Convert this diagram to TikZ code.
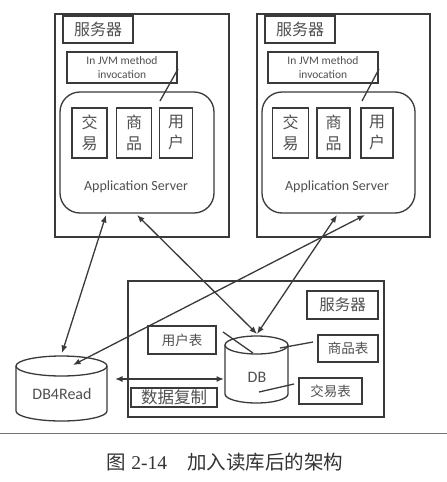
\documentclass[tikz,border=0pt]{standalone}
\usepackage{fontspec}
\setmainfont{Carlito}
\newfontfamily\cjk{Noto Sans CJK SC}
\newfontfamily\capserif{Liberation Serif}
\usetikzlibrary{arrows.meta}
\definecolor{ink}{HTML}{3A3A3A}
\definecolor{txt}{HTML}{505050}
\begin{document}
\begin{tikzpicture}[x=1pt,y=-1pt,
  line width=1.3pt,
  every node/.style={text=txt},
  box/.style={draw=ink, rectangle, inner sep=0pt, line width=1.3pt},
  rbox/.style={draw=ink, rectangle, rounded corners=20pt, inner sep=0pt, line width=1.3pt},
  cjk16/.style={font=\cjk\fontsize{16}{21}\selectfont},
  cjk13/.style={font=\cjk\fontsize{13.5}{16}\selectfont},
  lat/.style={font=\fontsize{14}{16}\selectfont},
  jvm/.style={font=\fontsize{11.5}{13.5}\selectfont},
  conn/.style={draw=ink, line width=1.3pt},
  biarrow/.style={conn, {Latex[length=7.5pt,width=6pt]}-{Latex[length=7.5pt,width=6pt]}}
]
\useasboundingbox (0,0) rectangle (447,482);
\fill[white] (0,0) rectangle (447,482);

% ---------- left server ----------
\node[box, minimum width=174pt, minimum height=223pt] (LS) at (142,125.5) {};
\node[box, cjk16, minimum width=70pt, minimum height=27pt] (LSlab) at (98,29.5) {服务器};
\node[box, jvm, minimum width=110pt, minimum height=31pt, align=center] (LJVM) at (122,67.5) {In JVM method\\invocation};
\node[rbox, minimum width=154pt, minimum height=121pt] (LAS) at (137,152.5) {};
\node[box, cjk16, minimum width=35pt, minimum height=50pt, align=center] (LT) at (89.5,133) {交\\易};
\node[box, cjk16, minimum width=35pt, minimum height=50pt, align=center] (LG) at (134,133) {商\\品};
\node[box, cjk16, minimum width=33pt, minimum height=50pt, align=center] (LU) at (176,133) {用\\户};
\node[lat] (LASt) at (136,187) {Application Server};
\coordinate (LJa) at (178,69);
\coordinate (LJb) at (160,101);
\draw[conn] (LJa) -- (LJb);

% ---------- right server ----------
\node[box, minimum width=173pt, minimum height=223pt] (RS) at (343.5,125.5) {};
\node[box, cjk16, minimum width=70pt, minimum height=27pt] (RSlab) at (300,29.5) {服务器};
\node[box, jvm, minimum width=110pt, minimum height=31pt, align=center] (RJVM) at (323,67.5) {In JVM method\\invocation};
\node[rbox, minimum width=153pt, minimum height=121pt] (RAS) at (338.5,152.5) {};
\node[box, cjk16, minimum width=36pt, minimum height=50pt, align=center] (RT) at (290.5,133) {交\\易};
\node[box, cjk16, minimum width=33pt, minimum height=50pt, align=center] (RG) at (333.5,133) {商\\品};
\node[box, cjk16, minimum width=32pt, minimum height=50pt, align=center] (RU) at (377,133) {用\\户};
\node[lat] (RASt) at (337,187) {Application Server};
\coordinate (RJa) at (379,69);
\coordinate (RJb) at (362,101);
\draw[conn] (RJa) -- (RJb);

% ---------- DB server ----------
\node[box, minimum width=256pt, minimum height=136pt] (DS) at (256,349) {};
\node[box, font=\cjk\fontsize{15.5}{18}\selectfont, minimum width=71pt, minimum height=28pt] (DSlab) at (342.5,305) {服务器};
\node[box, cjk13, minimum width=68pt, minimum height=28pt] (TU) at (182,340) {用户表};
\node[box, cjk13, minimum width=60pt, minimum height=27pt] (TG) at (348,348.5) {商品表};
\node[box, cjk13, minimum width=63pt, minimum height=26pt] (TT) at (330.5,391) {交易表};
\node[box, font=\cjk\fontsize{16.5}{18}\selectfont, minimum width=86pt, minimum height=19pt] (REP) at (174,397.5) {数据复制};

% DB cylinder
\fill[white] (225,345) -- (225,394) arc[start angle=180,end angle=360,x radius=31.5pt,y radius=9pt] -- (288,345) -- cycle;
\draw[ink, line width=1.3pt] (225,345) -- (225,394) arc[start angle=180,end angle=360,x radius=31.5pt,y radius=9pt] -- (288,345);
\draw[ink, line width=1.3pt] (256.5,345) ellipse[x radius=31.5pt, y radius=9pt];
\node[font=\fontsize{16}{18}\selectfont] (DB) at (257,377) {DB};

% DB4Read cylinder
\fill[white] (16,366) -- (16,411) arc[start angle=180,end angle=360,x radius=45.5pt,y radius=10pt] -- (107,366) -- cycle;
\draw[ink, line width=1.3pt] (16,366) -- (16,411) arc[start angle=180,end angle=360,x radius=45.5pt,y radius=10pt] -- (107,366);
\draw[ink, line width=1.3pt] (61.5,366) ellipse[x radius=45.5pt, y radius=10pt];
\node[font=\fontsize{16}{18}\selectfont] (DBR) at (62,394) {DB4Read};

% table connectors
\coordinate (TUa) at (223,332); \coordinate (TUb) at (253,353);
\coordinate (TGa) at (313,342); \coordinate (TGb) at (280,348);
\coordinate (TTa) at (294,384); \coordinate (TTb) at (259,392);
\draw[conn] (TUa) -- (TUb);
\draw[conn] (TGa) -- (TGb);
\draw[conn] (TTa) -- (TTb);

% arrows
\coordinate (L1) at (106,215);
\coordinate (L2) at (137,215);
\coordinate (R1) at (337,215);
\coordinate (R2) at (365,215);
\coordinate (DBtop) at (257,334);
\coordinate (DBRtop) at (62,353);
\coordinate (DBRin) at (73,365);
\coordinate (REPa) at (115,379);
\coordinate (REPb) at (224,379);
\draw[biarrow] (L1) -- (DBRtop);
\draw[biarrow] (L2) -- (DBtop);
\draw[biarrow] (R1) -- (DBtop);
\draw[biarrow] (R2) -- (DBRin);
\draw[biarrow] (REPa) -- (REPb);

% caption
\coordinate (SEPa) at (0,433);
\coordinate (SEPb) at (447,433);
\draw[black!55, line width=0.8pt] (SEPa) -- (SEPb);
\node[text=black!80, font=\fontsize{19.5}{22}\selectfont] (CAP) at (225,462)
  {{\cjk 图}\hspace{5pt}{\capserif 2-14}\hspace{20pt}{\cjk 加入读库后的架构}};
\end{tikzpicture}
\end{document}
